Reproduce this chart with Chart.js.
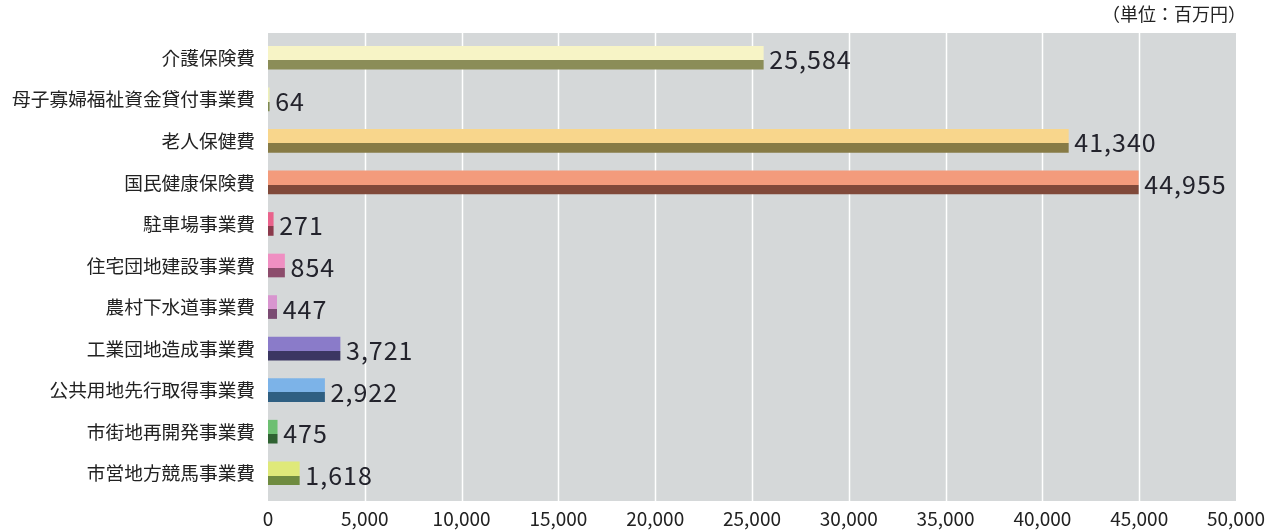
<!DOCTYPE html>
<html>
<head>
<meta charset="utf-8">
<script src="https://cdn.jsdelivr.net/npm/chart.js@4"></script>
<style>
  html, body { margin: 0; padding: 0; background: #fff; }
  #wrap { width: 1266px; height: 531px; }
</style>
</head>
<body>
<div id="wrap"><canvas id="grafico"></canvas></div>
<script>
// datos (単位：百万円)
const categorias = [
  '介護保険費', '母子寡婦福祉資金貸付事業費', '老人保健費', '国民健康保険費',
  '駐車場事業費', '住宅団地建設事業費', '農村下水道事業費', '工業団地造成事業費',
  '公共用地先行取得事業費', '市街地再開発事業費', '市営地方競馬事業費'
];
const valores = [25584, 64, 41340, 44955, 271, 854, 447, 3721, 2922, 475, 1618];
const ticksX = [0, 5000, 10000, 15000, 20000, 25000, 30000, 35000, 40000, 45000, 50000];
const unidad = '（単位：百万円）';

// colores: parte clara arriba, parte oscura abajo
const claros = ['#f7f4c6', '#eef0b8', '#f8d68c', '#f39b7c', '#e9638c', '#ef8fc2', '#d895cf', '#8a7bc9', '#7cb3e8', '#6dbf72', '#dfe97a'];
const oscuros = ['#8b8d58', '#7f8a50', '#877b46', '#80493a', '#8b3a4c', '#8c4c6c', '#7a4b72', '#3b3662', '#2f5f82', '#2f6232', '#6f8b40'];

const GROSOR = 23;
const fuente = "'Noto Sans CJK JP', 'Noto Sans', sans-serif";

function degradado(c) {
  const chart = c.chart;
  const y = chart.scales.y;
  if (!y || !chart.chartArea) return claros[c.dataIndex];
  const centro = y.getPixelForValue(c.dataIndex);
  const arriba = centro - GROSOR / 2;
  const g = chart.ctx.createLinearGradient(0, arriba, 0, arriba + GROSOR);
  g.addColorStop(0, claros[c.dataIndex]);
  g.addColorStop(0.6, claros[c.dataIndex]);
  g.addColorStop(0.6, oscuros[c.dataIndex]);
  g.addColorStop(1, oscuros[c.dataIndex]);
  return g;
}

// fondo gris y líneas blancas
const fondo = {
  id: 'fondo',
  beforeDatasetsDraw(chart) {
    const { ctx, chartArea: a, scales } = chart;
    ctx.save();
    ctx.fillStyle = '#d5d8d9';
    ctx.fillRect(a.left, a.top - 4, a.right - a.left, a.bottom - a.top + 11);
    ctx.strokeStyle = '#ffffff';
    ctx.lineWidth = 1.5;
    ticksX.slice(1, -1).forEach(v => {
      const x = Math.round(scales.x.getPixelForValue(v)) + 0.5;
      ctx.beginPath();
      ctx.moveTo(x, a.top - 4);
      ctx.lineTo(x, a.bottom + 7);
      ctx.stroke();
    });
    ctx.restore();
  }
};

// valores al final de cada barra + unidad
const etiquetas = {
  id: 'etiquetas',
  afterDatasetsDraw(chart) {
    const { ctx, chartArea: a } = chart;
    const meta = chart.getDatasetMeta(0);
    ctx.save();
    ctx.fillStyle = '#23232c';
    ctx.font = '25px ' + fuente;
    ctx.textBaseline = 'middle';
    ctx.textAlign = 'left';
    if ('letterSpacing' in ctx) ctx.letterSpacing = '1px';
    meta.data.forEach((bar, i) => {
      ctx.fillText(valores[i].toLocaleString('en-US'), bar.x + 6, bar.y + 2);
    });
    ctx.font = '18px ' + fuente;
    if ('letterSpacing' in ctx) ctx.letterSpacing = '0px';
    ctx.textAlign = 'right';
    ctx.fillStyle = '#222';
    ctx.fillText(unidad, a.right + 10, 14);
    ctx.restore();
  }
};

new Chart(document.getElementById('grafico'), {
  type: 'bar',
  data: {
    labels: categorias,
    datasets: [{
      data: valores,
      backgroundColor: degradado,
      borderWidth: 0,
      barThickness: GROSOR
    }]
  },
  options: {
    indexAxis: 'y',
    responsive: true,
    maintainAspectRatio: false,
    animation: false,
    layout: { padding: { top: 37, right: 30, left: 0, bottom: 0 } },
    plugins: {
      legend: { display: false },
      tooltip: { enabled: false }
    },
    scales: {
      x: {
        min: 0,
        max: 50000,
        afterFit(s) { s.height = 37; s.paddingRight = 0; s.paddingLeft = 0; },
        afterBuildTicks(s) { s.ticks = ticksX.map(v => ({ value: v })); },
        grid: { display: false, drawTicks: false },
        border: { display: false },
        ticks: {
          color: '#222',
          padding: 13,
          maxRotation: 0,
          font: { family: fuente, size: 19 },
          callback: v => v.toLocaleString('en-US')
        }
      },
      y: {
        afterFit(s) { s.width = 268; },
        grid: { display: false, drawTicks: false },
        border: { display: false },
        ticks: {
          color: '#222',
          padding: 13,
          font: { family: fuente, size: 18.7 }
        }
      }
    }
  },
  plugins: [fondo, etiquetas]
});
</script>
</body>
</html>
